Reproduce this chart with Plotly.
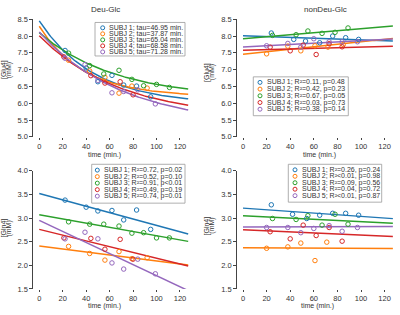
import numpy as np
import plotly.graph_objects as go

W, H = 400, 315
FONT = "Liberation Sans, Arial, sans-serif"
TXT = "#333333"

colors = ["#1f77b4", "#ff7f0e", "#2ca02c", "#d62728", "#9467bd"]
subjects = ["SUBJ 1", "SUBJ 2", "SUBJ 3", "SUBJ 4", "SUBJ 5"]
x_ticks = [0, 20, 40, 60, 80, 100, 120]

# ---- Deu-Glc, [Glu4] (top left) ----
deu_glu_t = [[22, 40, 50, 62, 72, 83, 95],
             [25, 43, 56, 68, 79, 92],
             [25, 43, 55, 68, 79, 89, 100, 111],
             [21, 44, 56, 69, 80],
             [22, 39, 50, 62, 72, 84, 99]]
deu_glu_v = [[7.57, 7.05, 6.64, 6.83, 6.54, 6.51, 6.19],
             [7.28, 6.96, 6.77, 6.30, 6.51, 6.45],
             [7.49, 7.12, 6.87, 6.98, 6.71, 6.52, 6.56, 6.47],
             [7.38, 6.82, 6.60, 6.64, 6.25],
             [7.34, 7.15, 6.68, 6.31, 6.35, 6.40, 5.98]]
deu_glu_tau = [46.95, 37.87, 65.04, 68.58, 71.28]
deu_glu_plateau = [5.964, 6.197, 6.142, 5.554, 5.331]
deu_glu_amp = [2.486, 2.093, 1.958, 2.456, 2.789]
deu_glu_labels = ["SUBJ 1; tau=46.95 min.", "SUBJ 2; tau=37.87 min.",
                  "SUBJ 3; tau=65.04 min.", "SUBJ 4; tau=68.58 min.",
                  "SUBJ 5; tau=71.28 min."]

# ---- nonDeu-Glc, [Glu4] (top right) ----
non_glu_t = [[24, 43, 53, 65, 76, 87, 98],
             [20, 38, 49, 61, 72, 85],
             [25, 45, 55, 67, 78, 89],
             [23, 40, 51, 62, 73, 84],
             [20, 38, 49, 60, 73, 84, 97]]
non_glu_v = [[8.09, 7.90, 7.85, 7.80, 8.00, 7.95, 7.90],
             [7.47, 7.70, 7.56, 7.71, 7.67, 7.75],
             [8.02, 8.04, 8.15, 8.08, 8.11, 8.24],
             [7.67, 7.56, 7.73, 7.45, 7.77, 7.68],
             [7.71, 7.78, 7.67, 7.92, 7.83, 7.83, 7.83]]
non_glu_icpt = [8.01, 7.46, 7.92, 7.58, 7.67]
non_glu_slope = [-0.00126, 0.0037, 0.0030, 0.00094, 0.00189]
non_glu_labels = ["SUBJ 1; R²=0.11, p=0.48", "SUBJ 2; R²=0.42, p=0.23",
                  "SUBJ 3; R²=0.67, p=0.05", "SUBJ 4; R²=0.03, p=0.73",
                  "SUBJ 5; R²=0.38, p=0.14"]

# ---- Deu-Glc, [Gln4] (bottom left) ----
deu_gln_t = deu_glu_t
deu_gln_v = [[3.38, 3.23, 3.15, 3.16, 2.96, 3.17, 2.76],
             [2.40, 2.25, 2.11, 2.29, 2.14, 2.16],
             [2.92, 2.87, 2.87, 2.83, 2.68, 2.69, 2.58, 2.58],
             [2.58, 2.57, 2.34, 2.55, 2.13],
             [2.56, 2.70, 2.56, 2.05, 1.92, 2.13, 1.82]]
deu_gln_icpt = [3.52, 2.41, 3.07, 2.76, 2.95]
deu_gln_slope = [-0.00675, -0.00317, -0.00444, -0.00611, -0.0117]
deu_gln_labels = ["SUBJ 1; R²=0.72, p=0.02", "SUBJ 2; R²=0.52, p=0.10",
                  "SUBJ 3; R²=0.91, p<0.01", "SUBJ 4; R²=0.49, p=0.19",
                  "SUBJ 5; R²=0.74, p=0.01"]

# ---- nonDeu-Glc, [Gln4] (bottom right) ----
non_gln_t = [[24, 42, 54, 65, 76, 87, 98],
             [20, 38, 49, 61, 71],
             [25, 45, 55, 67, 78, 89],
             [23, 40, 51, 62, 73, 84],
             [20, 38, 49, 60, 73, 84, 97]]
non_gln_v = [[3.28, 3.08, 2.99, 3.06, 3.10, 3.10, 3.06],
             [2.36, 2.39, 2.47, 2.10, 2.49],
             [2.99, 2.97, 3.05, 2.85, 3.08, 2.87],
             [2.71, 2.56, 2.85, 2.63, 2.80, 2.51],
             [2.80, 2.80, 2.69, 2.78, 2.84, 2.72, 2.80]]
non_gln_icpt = [3.21, 2.37, 3.05, 2.75, 2.81]
non_gln_slope = [-0.00175, -0.0001, -0.00127, -0.00111, 0.0001]
non_gln_labels = ["SUBJ 1; R²=0.26, p=0.24", "SUBJ 2; R²<0.01, p=0.98",
                  "SUBJ 3; R²=0.09, p=0.56", "SUBJ 4; R²=0.04, p=0.72",
                  "SUBJ 5; R²<0.01, p=0.87"]

fit_t = np.linspace(0, 127, 120)

fig = go.Figure()


def add_panel(k, ts, vs, fits):
    xa = "x" if k == 1 else f"x{k}"
    ya = "y" if k == 1 else f"y{k}"
    for i in range(5):
        fig.add_trace(go.Scatter(x=fit_t, y=fits[i], mode="lines", xaxis=xa, yaxis=ya,
                                 line=dict(color=colors[i], width=1.5), showlegend=False,
                                 hoverinfo="skip"))
    for i in range(5):
        fig.add_trace(go.Scatter(x=ts[i], y=vs[i], mode="markers", xaxis=xa, yaxis=ya,
                                 marker=dict(symbol="circle-open", size=4.5, color=colors[i],
                                             line=dict(width=1, color=colors[i])),
                                 name=subjects[i], showlegend=False))


add_panel(1, deu_glu_t, deu_glu_v,
          [deu_glu_plateau[i] + deu_glu_amp[i] * np.exp(-fit_t / deu_glu_tau[i]) for i in range(5)])
add_panel(2, non_glu_t, non_glu_v,
          [non_glu_icpt[i] + non_glu_slope[i] * fit_t for i in range(5)])
add_panel(3, deu_gln_t, deu_gln_v,
          [deu_gln_icpt[i] + deu_gln_slope[i] * fit_t for i in range(5)])
add_panel(4, non_gln_t, non_gln_v,
          [non_gln_icpt[i] + non_gln_slope[i] * fit_t for i in range(5)])


def px(x):
    return x / W


def py(y):
    return 1 - y / H


left_dom = [px(33.4), px(191.7)]
right_dom = [px(237.1), px(396.4)]
top_dom = [py(136.7), py(15.7)]
bot_dom = [py(293.3), py(171.7)]

xcommon = dict(range=[-5, 130], tickvals=x_ticks, ticks="outside", ticklen=2, tickwidth=1,
               tickcolor="#444", showline=False, showgrid=False, zeroline=False,
               tickfont=dict(family=FONT, size=7.5, color=TXT))
ycommon = dict(dtick=0.5, tickformat=".1f", ticks="outside", ticklen=3, tickwidth=1,
               tickcolor="#444", showline=True, linecolor="#444", linewidth=1,
               showgrid=False, zeroline=False, tickfont=dict(family=FONT, size=7.5, color=TXT))

fig.update_layout(
    width=W, height=H, margin=dict(l=0, r=0, t=0, b=0),
    paper_bgcolor="white", plot_bgcolor="white", showlegend=False,
    xaxis=dict(domain=left_dom, anchor="y", **xcommon),
    xaxis2=dict(domain=right_dom, anchor="y2", **xcommon),
    xaxis3=dict(domain=left_dom, anchor="y3", **xcommon),
    xaxis4=dict(domain=right_dom, anchor="y4", **xcommon),
    yaxis=dict(domain=top_dom, anchor="x", range=[5, 8.5], **ycommon),
    yaxis2=dict(domain=top_dom, anchor="x2", range=[5, 8.5], **ycommon),
    yaxis3=dict(domain=bot_dom, anchor="x3", range=[1.5, 4.0], **ycommon),
    yaxis4=dict(domain=bot_dom, anchor="x4", range=[1.5, 4.0], **ycommon),
)

annotations = []
shapes = []


def text(x, y, s, size=7.5, angle=0, xanchor="center"):
    annotations.append(dict(x=px(x), y=py(y), xref="paper", yref="paper", text=s,
                            showarrow=False, textangle=angle, xanchor=xanchor,
                            yanchor="middle", font=dict(family=FONT, size=size, color=TXT)))


# titles and axis labels
text(105, 6, "Deu-Glc", size=8)
text(325, 6, "nonDeu-Glc", size=8)
for (x, y) in [(104, 155.5), (319, 155.5), (104.5, 310.5), (317, 310.5)]:
    text(x, y, "time (min.)", size=7)
for (x, y, s) in [(4, 68, "[Glu4]"), (207, 70, "[Glu4]"), (4, 231, "[Gln4]"), (207, 228, "[Gln4]")]:
    text(x, y, s, size=7, angle=-90)
    text(x + 5.2, y, "(mM)", size=7, angle=-90)


def legend(box, sym_x, txt_x, y0, dy, labels):
    shapes.append(dict(type="rect", xref="paper", yref="paper", x0=px(box[0]), x1=px(box[2]),
                       y0=py(box[3]), y1=py(box[1]), line=dict(color="#9a9a9a", width=0.8),
                       fillcolor="white", layer="above"))
    for i in range(5):
        yy = y0 + i * dy
        shapes.append(dict(type="circle", xref="paper", yref="paper",
                           xsizemode="pixel", ysizemode="pixel",
                           xanchor=px(sym_x), yanchor=py(yy), x0=-2, x1=2, y0=-2, y1=2,
                           line=dict(color=colors[i], width=1), layer="above"))
        text(txt_x, yy, labels[i], size=7, xanchor="left")


legend((95, 19, 185, 53.5), 102.7, 106.5, 24.5, 6.2, deu_glu_labels)
legend((253.3, 75, 348.3, 115), 260, 264.5, 80.7, 6.9, non_glu_labels)
legend((91.7, 165, 185, 205), 97.3, 101.8, 171, 6.7, deu_gln_labels)
legend((288.3, 165, 381.7, 204), 295, 299.5, 170.7, 6.65, non_gln_labels)

fig.update_layout(annotations=annotations, shapes=shapes)
fig.write_html("out.html", config={"displayModeBar": False},
               post_script="document.body.style.margin='0';document.body.style.padding='0';")
